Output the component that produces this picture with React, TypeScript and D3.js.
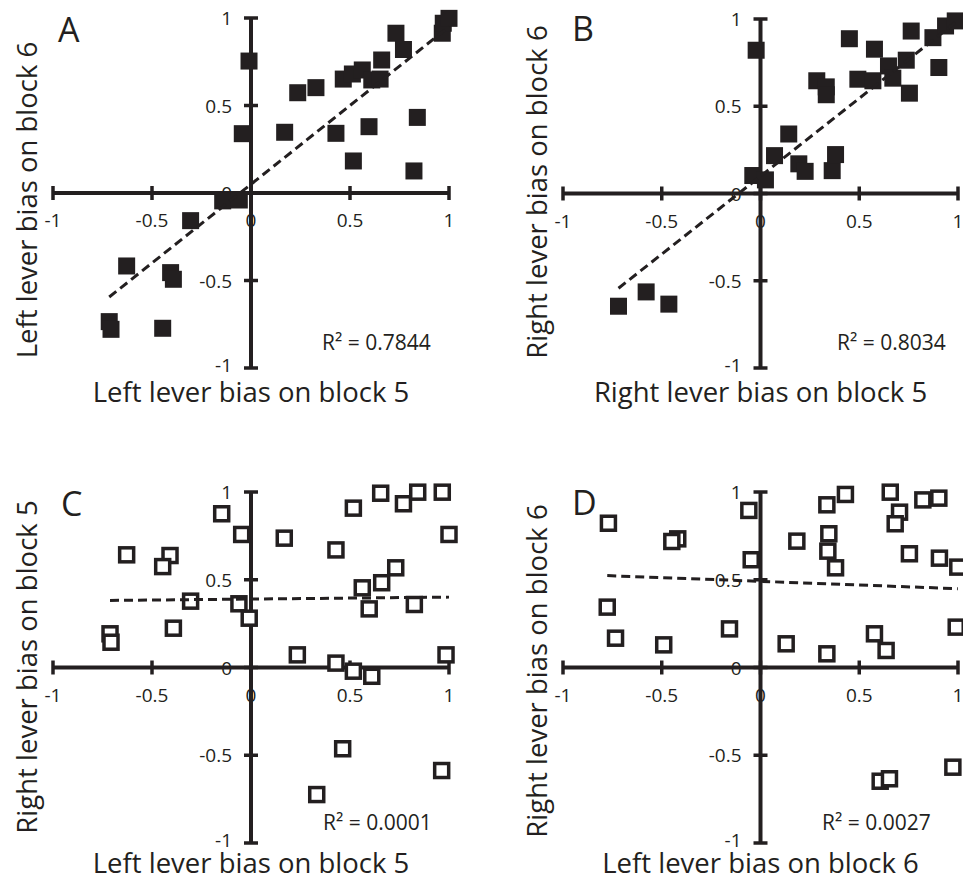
import React from 'react';
import * as d3 from 'd3';

// ---------- data ----------
const panelLetters = ['A', 'B', 'C', 'D'];
const xTitles = ['Left lever bias on block 5', 'Right lever bias on block 5', 'Left lever bias on block 5', 'Left lever bias on block 6'];
const yTitles = ['Left lever bias on block 6', 'Right lever bias on block 6', 'Right lever bias on block 5', 'Right lever bias on block 6'];
const r2Labels = ['R² = 0.7844', 'R² = 0.8034', 'R² = 0.0001', 'R² = 0.0027'];
const tickValues = [-1, -0.5, 0, 0.5, 1];
const tickLabels = ['-1', '-0.5', '0', '0.5', '1'];

const aX = [-0.01, -0.044, 0.17, 0.236, 0.328, 0.466, 0.512, 0.562, 0.61, 0.652, 0.66, 0.732, 0.77, 0.966, 0.971, 1.0, 0.429, 0.596, 0.517, 0.84, 0.823, -0.143, -0.059, -0.305, -0.628, -0.406, -0.392, -0.716, -0.707, -0.446];
const aY = [0.754, 0.339, 0.347, 0.573, 0.602, 0.651, 0.68, 0.703, 0.646, 0.651, 0.76, 0.913, 0.82, 0.913, 0.97, 0.998, 0.341, 0.379, 0.183, 0.432, 0.126, -0.045, -0.04, -0.158, -0.417, -0.455, -0.493, -0.735, -0.779, -0.773];

const bX = [-0.022, -0.039, 0.025, 0.071, 0.143, 0.194, 0.226, 0.285, 0.333, 0.333, 0.363, 0.38, 0.45, 0.493, 0.569, 0.577, 0.648, 0.67, 0.738, 0.754, 0.763, 0.873, 0.903, 0.937, 0.986, -0.719, -0.579, -0.464];
const bY = [0.821, 0.103, 0.078, 0.217, 0.341, 0.17, 0.127, 0.646, 0.611, 0.566, 0.131, 0.223, 0.887, 0.655, 0.646, 0.827, 0.731, 0.661, 0.764, 0.575, 0.931, 0.893, 0.722, 0.96, 0.989, -0.646, -0.564, -0.634];

const cX = [-0.148, -0.047, -0.628, -0.409, -0.446, 0.168, 0.429, 0.517, 0.655, 0.77, 0.842, 0.966, 1.0, 0.731, 0.66, 0.562, 0.597, 0.825, -0.305, -0.061, -0.009, -0.392, -0.712, -0.707, 0.234, 0.985, 0.429, 0.517, 0.61, 0.463, 0.963, 0.332];
const cY = [0.876, 0.758, 0.642, 0.638, 0.575, 0.737, 0.67, 0.908, 0.993, 0.933, 0.999, 0.999, 0.758, 0.568, 0.483, 0.454, 0.334, 0.359, 0.378, 0.363, 0.281, 0.224, 0.192, 0.144, 0.072, 0.072, 0.025, -0.021, -0.05, -0.463, -0.587, -0.724];

const dX = [-0.77, -0.419, -0.449, -0.776, -0.734, -0.49, -0.157, -0.059, -0.047, 0.184, 0.13, 0.336, 0.336, 0.43, 0.346, 0.341, 0.38, 0.657, 0.704, 0.682, 0.822, 0.903, 0.754, 0.906, 0.999, 0.577, 0.636, 0.991, 0.606, 0.653, 0.974];
const dY = [0.822, 0.733, 0.718, 0.344, 0.167, 0.129, 0.22, 0.895, 0.614, 0.72, 0.135, 0.078, 0.927, 0.986, 0.762, 0.663, 0.568, 0.999, 0.885, 0.819, 0.955, 0.965, 0.648, 0.623, 0.572, 0.192, 0.097, 0.23, -0.648, -0.634, -0.568];

const trendSlopes = [0.9, 0.893, 0.011, -0.042];
const trendIntercepts = [0.05, 0.099, 0.39, 0.491];

const seriesX = [aX, bX, cX, dX];
const seriesY = [aY, bY, cY, dY];
const filled = [true, true, false, false];

// ---------- layout ----------
const W = 963;
const H = 882;
const INK = '#231f20';
const FONT = "'Open Sans', 'DejaVu Sans', sans-serif";

const layout = [
  { xr: [53, 449], yr: [368, 18], letterX: 58, letterY: 42, yTitleX: 37, yTitleY: 200, xTitleY: 402, r2X: 322, r2Y: 350 },
  { xr: [563, 958], yr: [368, 19], letterX: 572, letterY: 41, yTitleX: 547, yTitleY: 192, xTitleY: 402, r2X: 837, r2Y: 350 },
  { xr: [53, 449], yr: [843, 492], letterX: 61, letterY: 516, yTitleX: 37, yTitleY: 667, xTitleY: 873, r2X: 323, r2Y: 830 },
  { xr: [563, 958], yr: [843, 492], letterX: 572, letterY: 515, yTitleX: 547, yTitleY: 671, xTitleY: 873, r2X: 822, r2Y: 830 },
];

function Panel({ i }: { i: number }) {
  const L = layout[i];
  const x = d3.scaleLinear().domain([-1, 1]).range(L.xr);
  const y = d3.scaleLinear().domain([-1, 1]).range(L.yr);
  const ox = x(0);
  const oy = y(0);
  const xs = seriesX[i];
  const ys = seriesY[i];
  const [xMin, xMax] = d3.extent(xs) as [number, number];
  const line = d3.line<number>()
    .x((v) => x(v))
    .y((v) => y(trendSlopes[i] * v + trendIntercepts[i]));
  const isFilled = filled[i];
  const size = isFilled ? 17 : 14;

  return (
    <g>
      <line x1={x(-1)} x2={x(1)} y1={oy} y2={oy} stroke={INK} strokeWidth={4} />
      <line x1={ox} x2={ox} y1={y(-1)} y2={y(1)} stroke={INK} strokeWidth={4} />
      {tickValues.map((t) => (
        <line key={'xt' + t} x1={x(t)} x2={x(t)} y1={oy - 7} y2={oy + 7} stroke={INK} strokeWidth={3.5} />
      ))}
      {tickValues.map((t) => (
        <line key={'yt' + t} x1={ox - 7} x2={ox + 7} y1={y(t)} y2={y(t)} stroke={INK} strokeWidth={3.5} />
      ))}
      {tickValues.map((t, k) => (
        <text key={'xl' + t} x={x(t)} y={oy + 34} textAnchor="middle" fontSize={19} fontFamily={FONT} fill={INK}>
          {tickLabels[k]}
        </text>
      ))}
      {tickValues.map((t, k) => (
        <text key={'yl' + t} x={ox - 19} y={y(t) + (t === -1 ? 4 : 7)} textAnchor="end" fontSize={19} fontFamily={FONT} fill={INK}>
          {tickLabels[k]}
        </text>
      ))}
      {xs.map((v, k) => (
        <rect
          key={'p' + k}
          x={x(v) - size / 2}
          y={y(ys[k]) - size / 2}
          width={size}
          height={size}
          fill={isFilled ? INK : '#ffffff'}
          stroke={isFilled ? 'none' : INK}
          strokeWidth={isFilled ? 0 : 3.5}
        />
      ))}
      <path d={line([xMin, xMax]) || ''} fill="none" stroke={INK} strokeWidth={3} strokeDasharray="9,5" />
      <text x={L.letterX} y={L.letterY} fontSize={34} fontFamily={FONT} fill={INK}>{panelLetters[i]}</text>
      <text x={L.r2X} y={L.r2Y} fontSize={21} fontFamily={FONT} fill={INK}>{r2Labels[i]}</text>
      <text x={ox} y={L.xTitleY} textAnchor="middle" fontSize={27.5} fontFamily={FONT} fill={INK}>{xTitles[i]}</text>
      <text transform={`translate(${L.yTitleX},${L.yTitleY}) rotate(-90)`} textAnchor="middle" fontSize={27.5} fontFamily={FONT} fill={INK}>
        {yTitles[i]}
      </text>
    </g>
  );
}

export default function App() {
  return (
    <svg
      width={W}
      height={H}
      viewBox={`0 0 ${W} ${H}`}
      style={{ position: 'absolute', left: 0, top: 0, background: '#ffffff', overflow: 'hidden' }}
    >
      <rect x={0} y={0} width={W} height={H} fill="#ffffff" />
      {[0, 1, 2, 3].map((i) => (
        <Panel key={i} i={i} />
      ))}
    </svg>
  );
}
